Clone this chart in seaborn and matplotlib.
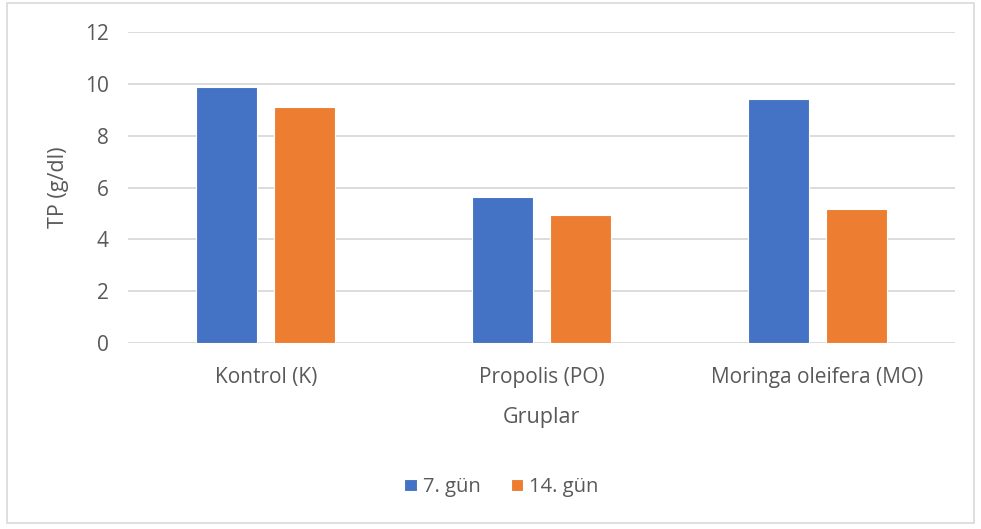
import matplotlib
matplotlib.use("Agg")
import matplotlib.pyplot as plt
import seaborn as sns
import pandas as pd
from matplotlib.patches import Rectangle

groups = ["Kontrol (K)", "Propolis (PO)", "Moringa oleifera (MO)"]
day7 = [9.86, 5.62, 9.42]
day14 = [9.11, 4.94, 5.17]
series = ["7. gün", "14. gün"]
yticks = [0, 2, 4, 6, 8, 10, 12]

df = pd.DataFrame({
    "Gruplar": groups * 2,
    "TP": day7 + day14,
    "Gün": [series[0]] * len(groups) + [series[1]] * len(groups),
})

sns.set_theme(style="white")
plt.rcParams["font.family"] = ["Open Sans", "DejaVu Sans"]
text_color = "#595959"
grid_color = "#d9d9d9"

fig = plt.figure(figsize=(9.81, 5.29), dpi=100)
ax = fig.add_axes([0.1305, 0.351, 0.843, 0.589])

sns.barplot(data=df, x="Gruplar", y="TP", hue="Gün", hue_order=series,
            palette=["#4472C4", "#ED7D31"], width=0.566, gap=0.22,
            edgecolor="white", linewidth=0.8, saturation=1, ax=ax, zorder=3)

ax.set_ylim(0, 12)
ax.set_xlim(-0.5, 2.5)
ax.set_yticks(yticks)
ax.yaxis.grid(True, color=grid_color, linewidth=1.3, zorder=0)
ax.set_axisbelow(True)
for s in ax.spines.values():
    s.set_visible(False)
ax.tick_params(axis="both", length=0, labelsize=15, colors=text_color)
ax.tick_params(axis="y", pad=14)
ax.tick_params(axis="x", pad=17)
ax.set_ylabel("TP (g/dl)", fontsize=15.5, color=text_color, labelpad=11)
ax.set_xlabel("Gruplar", fontsize=15.5, color=text_color, labelpad=14)

leg = ax.legend(loc="center", bbox_to_anchor=(0.511, 1 - 487 / 529),
                bbox_transform=fig.transFigure, ncol=2, frameon=False,
                fontsize=14.5, handlelength=0.6, handleheight=0.6,
                handletextpad=0.3, columnspacing=1.5)
for t in leg.get_texts():
    t.set_color(text_color)

fig.patches.append(Rectangle((7 / 981, 1 - 523 / 529), 967 / 981, 520 / 529,
                             transform=fig.transFigure, fill=False,
                             edgecolor=grid_color, linewidth=1.2))

fig.savefig("out.png", dpi=100, facecolor="white")
